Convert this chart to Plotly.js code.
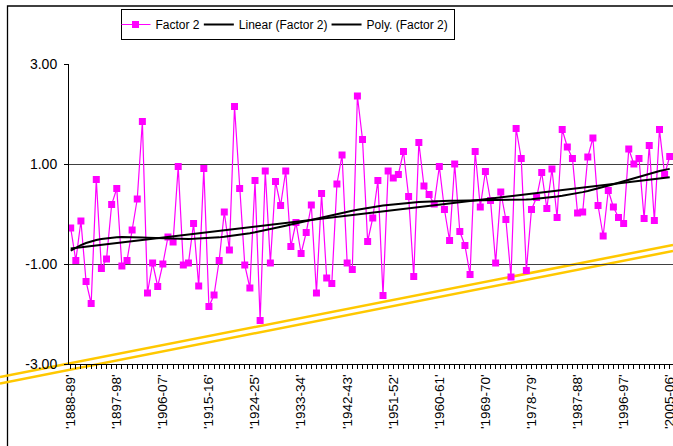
<!DOCTYPE html>
<html>
<head>
<meta charset="utf-8">
<script src="https://cdn.plot.ly/plotly-3.0.1.min.js"></script>
<style>
  html, body { margin: 0; padding: 0; background: #fff; }
  #chart { width: 673px; height: 446px; }
</style>
</head>
<body>
<div id="chart"></div>
<script>
// Season labels, '1888-89' ... '2005-06'
const firstSeasonYear = 1888;
const seasonCount = 118;
const seasons = [];
for (let k = 0; k < seasonCount; k++) {
  const y = firstSeasonYear + k;
  seasons.push("'" + y + "-" + String((y + 1) % 100).padStart(2, "0") + "'");
}

// Factor 2 score per season
const factor2 = [
  -0.28, -0.93, -0.14, -1.35, -1.79,  0.69, -1.09, -0.90,  0.19,  0.51,
  -1.04, -0.93, -0.32,  0.30,  1.85, -1.58, -0.98, -1.45, -1.00, -0.46,
  -0.56,  0.95, -1.02, -0.98, -0.19, -1.44,  0.91, -1.85, -1.62, -0.93,
   0.04, -0.72,  2.15,  0.51, -1.02, -1.48,  0.67, -2.13,  0.86, -0.98,
   0.65,  0.17,  0.86, -0.65, -0.17, -0.79, -0.37,  0.18, -1.58,  0.41,
  -1.28, -1.39,  0.60,  1.18, -0.98, -1.11,  2.36,  1.49, -0.55, -0.08,
   0.67, -1.63,  0.86,  0.72,  0.79,  1.25,  0.35, -1.25,  1.43,  0.56,
   0.39,  0.20,  0.95,  0.09, -0.53,  1.00, -0.35, -0.63, -1.21,  1.25,
   0.14,  0.85,  0.27, -0.98,  0.44, -0.11, -1.26,  1.71,  1.11, -1.13,
   0.09,  0.33,  0.83,  0.11,  0.90, -0.07,  1.69,  1.34,  1.11,  0.02,
   0.04,  1.14,  1.52,  0.17, -0.44,  0.47,  0.14, -0.07, -0.19,  1.30,
   1.00,  1.11, -0.09,  1.37, -0.13,  1.69,  0.79,  1.15
];

const yTickVals = [-3, -1, 1, 3];
const yTickText = yTickVals.map(v => v.toFixed(2));
const polyOrder = 6;

// Least-squares polynomial fit (x rescaled to [-1, 1] for stability)
function polyFit(ys, order) {
  const n = ys.length, mid = (n - 1) / 2;
  const ts = ys.map((_, i) => (i - mid) / mid);
  const m = order + 1;
  const A = Array.from({length: m}, () => new Array(m + 1).fill(0));
  for (let i = 0; i < n; i++) {
    const p = [];
    for (let j = 0; j < m; j++) p.push(Math.pow(ts[i], j));
    for (let r = 0; r < m; r++) {
      for (let c = 0; c < m; c++) A[r][c] += p[r] * p[c];
      A[r][m] += p[r] * ys[i];
    }
  }
  for (let c = 0; c < m; c++) {
    let piv = c;
    for (let r = c + 1; r < m; r++) if (Math.abs(A[r][c]) > Math.abs(A[piv][c])) piv = r;
    [A[c], A[piv]] = [A[piv], A[c]];
    for (let r = 0; r < m; r++) {
      if (r === c) continue;
      const f = A[r][c] / A[c][c];
      for (let k = c; k <= m; k++) A[r][k] -= f * A[c][k];
    }
  }
  const coef = A.map((row, r) => row[m] / row[r]);
  return ts.map(t => coef.reduce((s, a, j) => s + a * Math.pow(t, j), 0));
}

const linearTrend = polyFit(factor2, 1);
const polyTrend = polyFit(factor2, polyOrder);

const traces = [
  {
    x: seasons, y: factor2, name: "Factor 2", type: "scatter", mode: "lines+markers",
    line: {color: "#FF00FF", width: 1.2},
    marker: {symbol: "square", size: 7, color: "#FF00FF"}
  },
  {
    x: seasons, y: linearTrend, name: "Linear (Factor 2)", type: "scatter", mode: "lines",
    line: {color: "#000000", width: 2}
  },
  {
    x: seasons, y: polyTrend, name: "Poly. (Factor 2)", type: "scatter", mode: "lines",
    line: {color: "#000000", width: 2}
  }
];

const plotL = 69, plotW = 604, plotT = 64, plotH = 300;
const px = v => (v - plotL) / plotW;
const py = v => (plotT + plotH - v) / plotH;

const layout = {
  width: 673, height: 446,
  margin: {l: plotL, r: 0, t: plotT, b: 446 - plotT - plotH, pad: 0},
  paper_bgcolor: "#ffffff", plot_bgcolor: "#ffffff",
  font: {family: "Liberation Sans, Arial, sans-serif", color: "#000000", size: 12},
  showlegend: true,
  legend: {
    orientation: "h", x: px(287.5), xanchor: "center", y: py(9), yanchor: "top",
    bgcolor: "#ffffff", bordercolor: "#000000", borderwidth: 1,
    font: {size: 12}, itemwidth: 30, indentation: -6, tracegroupgap: 0
  },
  xaxis: {
    type: "category", range: [-0.33, 117.64],
    tickmode: "linear", tick0: 0, dtick: 1, ticklabelstep: 9,
    ticks: "outside", ticklen: 4, tickwidth: 1, tickcolor: "#000000",
    tickangle: -90, tickfont: {size: 13.5},
    showline: true, linecolor: "#000000", linewidth: 1,
    showgrid: false, zeroline: false, fixedrange: true
  },
  yaxis: {
    range: [-3, 3], tickmode: "array", tickvals: yTickVals, ticktext: yTickText,
    ticks: "outside", ticklen: 4, tickcolor: "#000000", tickfont: {size: 14},
    ticklabelstandoff: 4,
    showline: true, linecolor: "#000000", linewidth: 1,
    showgrid: true, gridcolor: "#404040", gridwidth: 1, zeroline: false, fixedrange: true
  },
  shapes: [
    // chart frame
    {type: "rect", xref: "paper", yref: "paper", x0: px(7.5), x1: 2, y0: -1, y1: py(6),
     line: {color: "#000000", width: 1.3}, fillcolor: "rgba(0,0,0,0)", layer: "below"},
    // gold double band
    {type: "line", xref: "paper", yref: "paper", x0: px(0), y0: py(377), x1: px(673), y1: py(245),
     line: {color: "#FFC800", width: 2.5}, layer: "below"},
    {type: "line", xref: "paper", yref: "paper", x0: px(0), y0: py(383.5), x1: px(673), y1: py(251),
     line: {color: "#FFC800", width: 2.5}, layer: "below"}
  ]
};

Plotly.newPlot("chart", traces, layout, {displayModeBar: false, staticPlot: true});
</script>
</body>
</html>
